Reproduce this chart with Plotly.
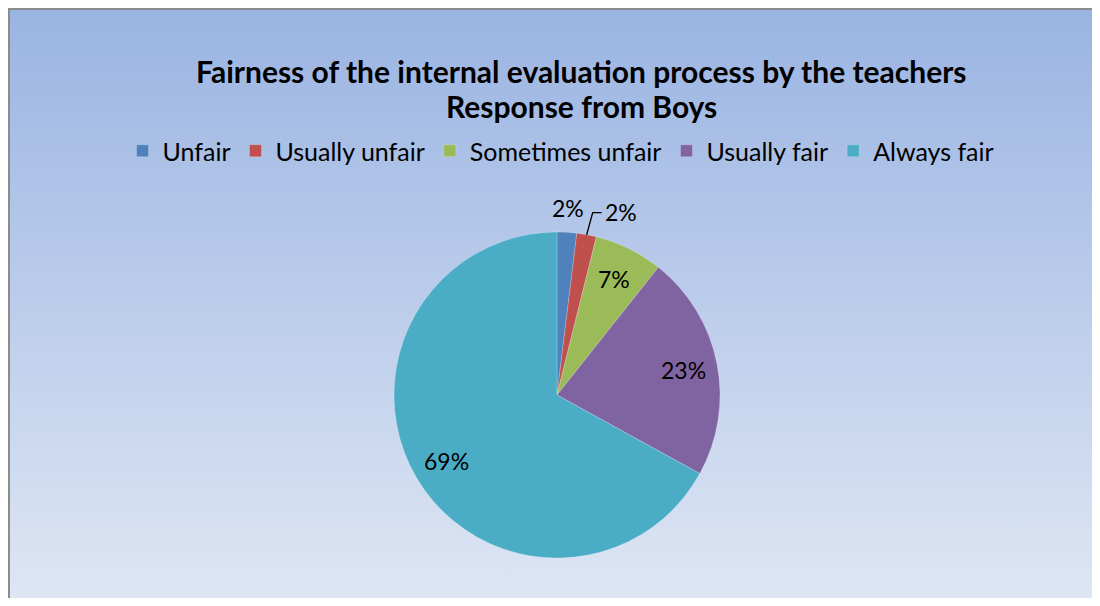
import math
import urllib.parse
import plotly.graph_objects as go

categories = ["Unfair", "Usually unfair", "Sometimes unfair", "Usually fair", "Always fair"]
values = [2, 2, 7, 23, 69]
colors = ["#4F81BD", "#C0504D", "#9BBB59", "#8064A2", "#4BACC6"]
title_lines = ["Fairness of the internal evaluation process by the teachers", "Response from Boys"]

# figure sized so that the page (with its 8px body margin) never overflows
W, H = 1084, 590
FONT = "Lato"


def px(x):
    return x / W


def py(y):
    return 1 - y / H


# pie geometry in paper pixels
CX, CY, R = 549, 387, 163

svg = (
    "<svg xmlns='http://www.w3.org/2000/svg' width='100' height='100' preserveAspectRatio='none'>"
    "<defs><linearGradient id='g' x1='0' y1='0' x2='0' y2='1'>"
    "<stop offset='0' stop-color='#9AB4E2'/><stop offset='1' stop-color='#DFE7F4'/>"
    "</linearGradient></defs><rect width='100' height='100' fill='url(#g)'/></svg>"
)
src = "data:image/svg+xml;charset=utf-8," + urllib.parse.quote(svg)

fig = go.Figure()
fig.add_trace(go.Pie(
    labels=categories,
    values=values,
    sort=False,
    direction="clockwise",
    rotation=0,
    marker=dict(colors=colors, line=dict(color="rgba(255,255,255,0.35)", width=0.6)),
    textinfo="none",
    domain=dict(x=[px(CX - R), px(CX + R)], y=[py(CY + R), py(CY - R)]),
    hoverinfo="label+percent",
))

# data labels, positioned from each slice's mid angle
total = sum(values)
annotations = []
shapes = []
lab_font = dict(family=FONT, size=23, color="black")
cum = 0
for i, v in enumerate(values):
    mid = (cum + v / 2) / total * 2 * math.pi
    cum += v
    sx, sy = math.sin(mid), -math.cos(mid)
    label = f"{v}%"
    if v / total >= 0.05:
        k = 0.79
        annotations.append(dict(
            x=px(CX + k * R * sx), y=py(CY + k * R * sy), xref="paper", yref="paper",
            text=label, showarrow=False, xanchor="center", yanchor="middle", font=lab_font,
        ))
    elif i == 0:
        k = 1.15
        annotations.append(dict(
            x=px(CX + k * R * sx), y=py(CY + k * R * sy), xref="paper", yref="paper",
            text=label, showarrow=False, xanchor="center", yanchor="middle", font=lab_font,
        ))
    else:
        ex, ey = CX + R * sx, CY + R * sy
        kx, ky = ex + 6, ey - 22
        tx = kx + 9
        shapes.append(dict(
            type="path", xref="paper", yref="paper",
            path=f"M {px(ex)} {py(ey)} L {px(kx)} {py(ky)} L {px(tx)} {py(ky)}",
            line=dict(color="black", width=1.3),
        ))
        annotations.append(dict(
            x=px(tx + 1), y=py(ky - 1), xref="paper", yref="paper",
            text=label, showarrow=False, xanchor="left", yanchor="middle", font=lab_font,
        ))

for j, line in enumerate(title_lines):
    annotations.append(dict(
        x=px(573), y=py(63 + 35 * j), xref="paper", yref="paper",
        text=f"<b>{line}</b>", showarrow=False, xanchor="center", yanchor="middle",
        font=dict(family=FONT, size=30, color="black"),
    ))

shapes += [
    dict(type="line", xref="paper", yref="paper", x0=px(0), x1=1.02, y0=py(1), y1=py(1),
         line=dict(color="#8C8C8C", width=2)),
    dict(type="line", xref="paper", yref="paper", x0=px(1), x1=px(1), y0=py(0), y1=-0.02,
         line=dict(color="#8C8C8C", width=2)),
]

fig.update_layout(
    width=W, height=H,
    margin=dict(l=0, r=0, t=0, b=0),
    paper_bgcolor="white",
    plot_bgcolor="rgba(0,0,0,0)",
    annotations=annotations,
    shapes=shapes,
    legend=dict(
        orientation="h",
        x=px(553), xanchor="center",
        y=py(143), yanchor="middle",
        font=dict(family=FONT, size=25, color="black"),
        bgcolor="rgba(0,0,0,0)",
        traceorder="normal",
    ),
    images=[dict(
        source=src, xref="paper", yref="paper",
        x=px(1), y=py(1), sizex=1.02, sizey=1.02,
        xanchor="left", yanchor="top", sizing="stretch", layer="below",
    )],
)

fig.write_html("out.html")
